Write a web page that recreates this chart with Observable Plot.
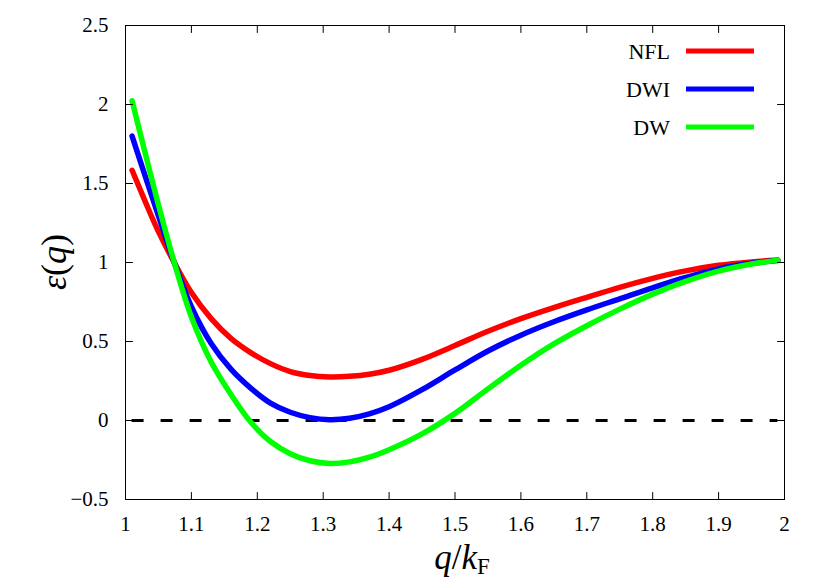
<!DOCTYPE html>
<html>
<head>
<meta charset="utf-8">
<script src="https://cdn.jsdelivr.net/npm/d3@7"></script>
<script src="https://cdn.jsdelivr.net/npm/@observablehq/plot@0.6"></script>
<style>
  html, body { margin: 0; padding: 0; background: #fff; }
</style>
</head>
<body>
<div id="chart"></div>
<script>
// ---- data ----
const seriesNames = ["NFL", "DWI", "DW"];
const seriesColors = ["#ff0000", "#0000ff", "#00ff00"];

const qGrid = [1.01, 1.03, 1.05, 1.074, 1.10, 1.13, 1.16, 1.19, 1.22, 1.25, 1.28, 1.31, 1.34, 1.37, 1.40, 1.45, 1.50, 1.55, 1.60, 1.65, 1.70, 1.75, 1.80, 1.85, 1.90, 1.95, 1.99];
const nflE = [1.584, 1.385, 1.195, 1.0, 0.81, 0.645, 0.52, 0.43, 0.36, 0.31, 0.285, 0.276, 0.28, 0.293, 0.318, 0.387, 0.475, 0.565, 0.645, 0.715, 0.78, 0.843, 0.90, 0.947, 0.982, 1.004, 1.016];
const dwiE = [1.80, 1.545, 1.295, 1.0, 0.72, 0.487, 0.325, 0.205, 0.11, 0.052, 0.018, 0.005, 0.014, 0.042, 0.087, 0.195, 0.32, 0.44, 0.54, 0.625, 0.70, 0.77, 0.84, 0.905, 0.96, 0.995, 1.012];
const dwE = [2.023, 1.69, 1.365, 1.0, 0.655, 0.37, 0.165, -0.01, -0.133, -0.21, -0.255, -0.272, -0.262, -0.232, -0.185, -0.085, 0.045, 0.20, 0.35, 0.485, 0.60, 0.705, 0.80, 0.88, 0.945, 0.99, 1.015];

const xTicks = [1, 1.1, 1.2, 1.3, 1.4, 1.5, 1.6, 1.7, 1.8, 1.9, 2];
const xTickLabels = ["1", "1.1", "1.2", "1.3", "1.4", "1.5", "1.6", "1.7", "1.8", "1.9", "2"];
const yTicks = [-0.5, 0, 0.5, 1, 1.5, 2, 2.5];
const yTickLabels = ["\u22120.5", "0", "0.5", "1", "1.5", "2", "2.5"];
const xDomain = [1, 2];
const yDomain = [-0.5, 2.5];
const zeroLine = [0];
const zeroLineRange = [1.01, 1.99];

// ---- build table ----
const allE = [nflE, dwiE, dwE];
const rows = [];
seriesNames.forEach((name, i) => {
  qGrid.forEach((q, j) => rows.push({series: name, q, e: allE[i][j]}));
});

const tickShape = { draw(context, l) { context.moveTo(0, 0); context.lineTo(0, -l); } };
const font = "'Liberation Serif', 'DejaVu Serif', serif";

const chart = Plot.plot({
  width: 830,
  height: 581,
  marginLeft: 125,
  marginRight: 46,
  marginTop: 25,
  marginBottom: 82,
  style: { fontFamily: font, fontSize: "22px", background: "#fff", color: "#000" },
  x: { domain: xDomain },
  y: { domain: yDomain },
  color: { domain: seriesNames, range: seriesColors },
  marks: [
    Plot.ruleY(zeroLine, { x1: zeroLineRange[0], x2: zeroLineRange[1], stroke: "#000", strokeWidth: 3, strokeDasharray: "12,17" }),
    Plot.line(rows, { x: "q", y: "e", stroke: "series", z: "series", strokeWidth: 5.5, curve: "catmull-rom" }),
    Plot.frame({ stroke: "#000", strokeWidth: 1 }),
    Plot.vector(xTicks, { x: d => d, y: yDomain[0], length: 7, rotate: 0, anchor: "start", shape: tickShape, stroke: "#000", strokeWidth: 1 }),
    Plot.vector(xTicks, { x: d => d, y: yDomain[1], length: 7, rotate: 180, anchor: "start", shape: tickShape, stroke: "#000", strokeWidth: 1 }),
    Plot.vector(yTicks, { y: d => d, x: xDomain[0], length: 7, rotate: 90, anchor: "start", shape: tickShape, stroke: "#000", strokeWidth: 1 }),
    Plot.vector(yTicks, { y: d => d, x: xDomain[1], length: 7, rotate: -90, anchor: "start", shape: tickShape, stroke: "#000", strokeWidth: 1 }),
    Plot.axisX({ anchor: "bottom", ticks: xTicks, tickSize: 0, tickPadding: 17, tickFormat: (d) => xTickLabels[xTicks.indexOf(d)], label: null, fontSize: 21 }),
    Plot.axisY({ anchor: "left", ticks: yTicks, tickSize: 0, tickPadding: 17, tickFormat: (d) => yTickLabels[yTicks.indexOf(d)], label: null, fontSize: 21 })
  ]
});

document.getElementById("chart").appendChild(chart);

const svg = d3.select(chart);

// axis titles
const xt = svg.append("text")
  .attr("x", 462).attr("y", 569)
  .attr("text-anchor", "middle")
  .style("font-family", font).style("font-size", "35px");
xt.append("tspan").style("font-style", "italic").text("q");
xt.append("tspan").text("/");
xt.append("tspan").style("font-style", "italic").text("k");
xt.append("tspan").attr("dy", 5).style("font-size", "23px").text("F");

svg.append("text")
  .attr("transform", "translate(66,262) rotate(-90)")
  .attr("text-anchor", "middle")
  .style("font-family", font).style("font-size", "36px")
  .call(t => {
    t.append("tspan").style("font-style", "italic").text("\u03b5");
    t.append("tspan").text("(");
    t.append("tspan").style("font-style", "italic").text("q");
    t.append("tspan").text(")");
  });

// legend
const legendY = [51, 89, 127];
seriesNames.forEach((name, i) => {
  svg.append("text")
    .attr("x", 670).attr("y", legendY[i])
    .attr("dy", "0.35em")
    .attr("text-anchor", "end")
    .style("font-family", font).style("font-size", "22px")
    .text(name);
  svg.append("line")
    .attr("x1", 686).attr("x2", 754)
    .attr("y1", legendY[i]).attr("y2", legendY[i])
    .attr("stroke", seriesColors[i]).attr("stroke-width", 5);
});
</script>
</body>
</html>
